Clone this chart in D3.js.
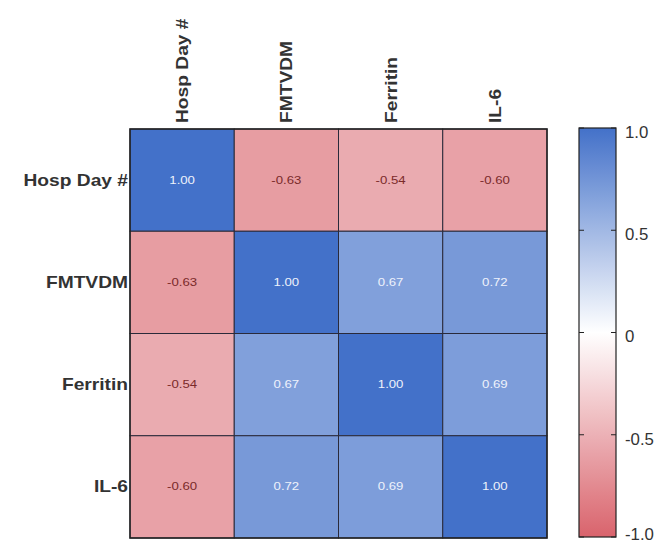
<!DOCTYPE html>
<html><head><meta charset="utf-8">
<script src="https://cdn.jsdelivr.net/npm/d3@7"></script>
<style>body{margin:0;background:#fff;}svg{display:block;}</style>
</head><body>
<svg id="c" width="667" height="544"></svg>
<script>
const variables = ["Hosp Day #", "FMTVDM", "Ferritin", "IL-6"];
const corrHospDay = [1.00, -0.63, -0.54, -0.60];
const corrFMTVDM = [-0.63, 1.00, 0.67, 0.72];
const corrFerritin = [-0.54, 0.67, 1.00, 0.69];
const corrIL6 = [-0.60, 0.72, 0.69, 1.00];
const matrix = [corrHospDay, corrFMTVDM, corrFerritin, corrIL6];
const colorbarTicks = [-1.0, -0.5, 0, 0.5, 1.0];
const colorbarTickLabels = ["-1.0", "-0.5", "0", "0.5", "1.0"];

const FONT = "Liberation Sans, Arial, sans-serif";
const SX = 1.2; // horizontal stretch of the text in the reference
const svg = d3.select("#c");
const gx0 = 130, gx1 = 547, gy0 = 129, gy1 = 538;
const x = d3.scaleBand().domain(variables).range([gx0, gx1]);
const y = d3.scaleBand().domain(variables).range([gy0, gy1]);
const color = d3.scaleLinear().domain([-1, 0, 1]).range(["#d9636c", "#ffffff", "#4371c9"]).interpolate(d3.interpolateRgb);

const cells = [];
matrix.forEach((row, i) => row.forEach((v, j) => cells.push({r: variables[i], c: variables[j], v})));

svg.append("g").selectAll("rect").data(cells).join("rect")
  .attr("x", d => x(d.c)).attr("y", d => y(d.r))
  .attr("width", x.bandwidth()).attr("height", y.bandwidth())
  .attr("fill", d => color(d.v))
  .attr("stroke", "#2a2a3a").attr("stroke-width", 1);

svg.append("g").selectAll("text").data(cells).join("text")
  .attr("transform", d => `translate(${x(d.c) + x.bandwidth() / 2},${y(d.r) + y.bandwidth() / 2}) scale(${SX},1)`)
  .attr("text-anchor", "middle").attr("dominant-baseline", "central")
  .attr("font-family", FONT).attr("font-size", 11)
  .attr("fill", d => d.v > 0 ? "#eef2fb" : "#7a2a2a")
  .text(d => d.v.toFixed(2));

svg.append("rect").attr("x", gx0).attr("y", gy0).attr("width", gx1 - gx0).attr("height", gy1 - gy0)
  .attr("fill", "none").attr("stroke", "#222").attr("stroke-width", 1.5);

// Row labels
svg.append("g").selectAll("text").data(variables).join("text")
  .attr("transform", d => `translate(${gx0 - 2},${y(d) + y.bandwidth() / 2}) scale(${SX},1)`)
  .attr("text-anchor", "end").attr("dominant-baseline", "central")
  .attr("font-family", FONT).attr("font-size", 16).attr("font-weight", "bold")
  .attr("fill", "#333").text(d => d);

// Column labels (rotated)
svg.append("g").selectAll("text").data(variables).join("text")
  .attr("transform", d => `translate(${x(d) + x.bandwidth() / 2 + 6},${gy0 - 6}) rotate(-90) scale(${SX},1)`)
  .attr("text-anchor", "start")
  .attr("font-family", FONT).attr("font-size", 16).attr("font-weight", "bold")
  .attr("fill", "#333").text(d => d);

// Colorbar
const cbx = 579, cbw = 37, cby0 = 128, cby1 = 537;
const cbScale = d3.scaleLinear().domain([-1, 1]).range([cby1, cby0]);
const defs = svg.append("defs");
const grad = defs.append("linearGradient").attr("id", "cbg").attr("x1", 0).attr("y1", 1).attr("x2", 0).attr("y2", 0);
d3.range(-1, 1.001, 0.1).forEach(t => grad.append("stop").attr("offset", (t + 1) / 2).attr("stop-color", color(t)));
svg.append("rect").attr("x", cbx).attr("y", cby0).attr("width", cbw).attr("height", cby1 - cby0)
  .attr("fill", "url(#cbg)").attr("stroke", "#222").attr("stroke-width", 1.2);
const tg = svg.append("g").selectAll("g").data(colorbarTicks).join("g");
tg.append("line").attr("x1", cbx).attr("x2", cbx + 5).attr("y1", d => cbScale(d)).attr("y2", d => cbScale(d)).attr("stroke", "#222");
tg.append("line").attr("x1", cbx + cbw - 5).attr("x2", cbx + cbw).attr("y1", d => cbScale(d)).attr("y2", d => cbScale(d)).attr("stroke", "#222");
tg.append("text")
  .attr("transform", d => `translate(${cbx + cbw + 9},${Math.min(cbScale(d) + 4, 534)}) scale(1.05,1)`)
  .attr("dominant-baseline", "central")
  .attr("font-family", FONT).attr("font-size", 16)
  .attr("fill", "#333").text((d, i) => colorbarTickLabels[i]);
</script>
</body></html>
